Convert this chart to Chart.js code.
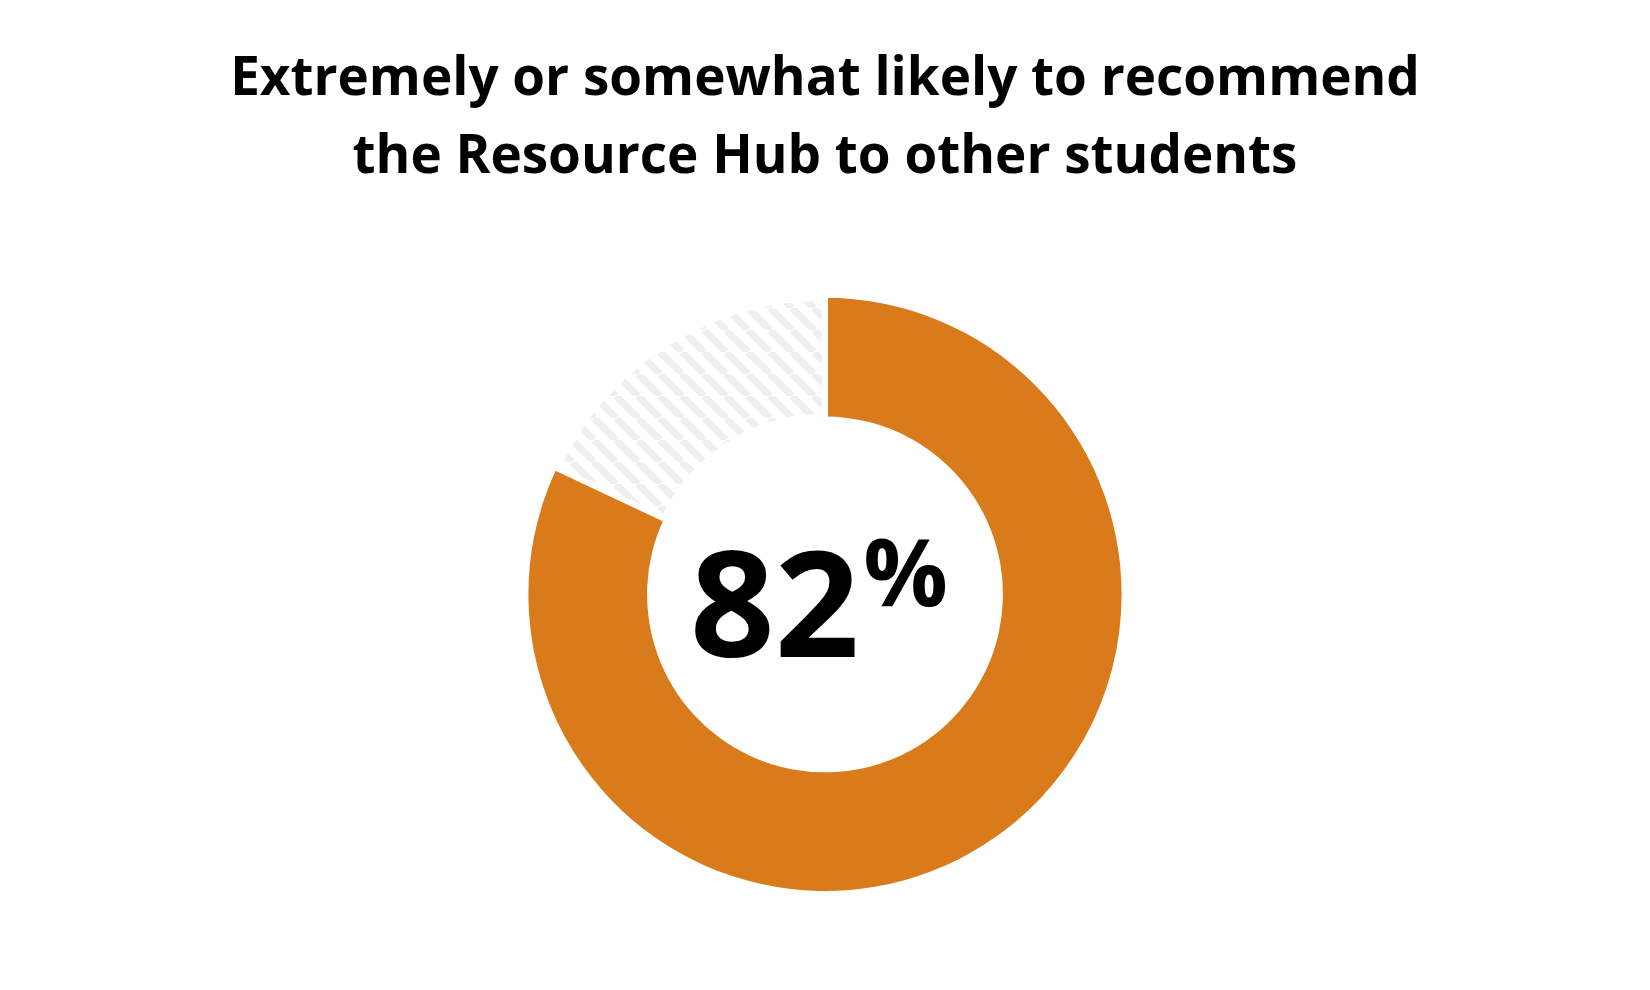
<!DOCTYPE html>
<html>
<head>
<meta charset="utf-8">
<script src="https://cdn.jsdelivr.net/npm/chart.js@4"></script>
<style>
  html, body { margin: 0; padding: 0; background: #ffffff; }
  #wrap { width: 1650px; height: 990px; }
</style>
</head>
<body>
<div id="wrap"><canvas id="c" width="1650" height="990"></canvas></div>
<script>
const titleLines = ['Extremely or somewhat likely to recommend', 'the Resource Hub to other students'];
const categories = ['Extremely or somewhat likely', 'Other'];
const values = [82, 18];
const centerNumber = '82';
const centerSuffix = '%';

function makeHatch() {
  const s = 22;
  const c = document.createElement('canvas');
  c.width = s; c.height = s;
  const g = c.getContext('2d');
  g.fillStyle = '#ffffff';
  g.fillRect(0, 0, s, s);
  g.strokeStyle = '#efefef';
  g.lineWidth = 7;
  for (let k = -1; k <= 1; k++) {
    g.beginPath();
    g.moveTo(k * s, 0);
    g.lineTo(k * s + s, s);
    g.stroke();
  }
  return g.createPattern(c, 'repeat');
}

const centerText = {
  id: 'centerText',
  afterDraw(chart) {
    const arc = chart.getDatasetMeta(0).data[0];
    if (!arc) return;
    const ctx = chart.ctx;
    ctx.save();
    ctx.fillStyle = '#000000';
    ctx.textBaseline = 'alphabetic';
    ctx.textAlign = 'left';
    const bigFont = 'bold 148px "Open Sans"';
    const smallFont = 'bold 94px "Open Sans"';
    const gap = 4;
    ctx.font = bigFont;
    const wBig = ctx.measureText(centerNumber).width;
    ctx.font = smallFont;
    const wSmall = ctx.measureText(centerSuffix).width;
    const total = wBig + wSmall + gap;
    const x0 = arc.x - 6 - total / 2;
    const baseline = arc.y + 63;
    ctx.font = bigFont;
    ctx.fillText(centerNumber, x0, baseline);
    ctx.font = smallFont;
    ctx.fillText(centerSuffix, x0 + wBig + gap, baseline - 51);
    ctx.restore();
  }
};

function build() {
  new Chart(document.getElementById('c'), {
    type: 'doughnut',
    data: {
      labels: categories,
      datasets: [{
        data: values,
        backgroundColor: ['#D97B1B', makeHatch()],
        borderColor: '#ffffff',
        borderWidth: [0, 6],
        hoverBorderWidth: [0, 6],
        hoverOffset: 0
      }]
    },
    options: {
      responsive: false,
      animation: false,
      cutout: '60%',
      layout: { padding: { left: 0, right: 0, top: 0, bottom: 96 } },
      plugins: {
        legend: { display: false },
        tooltip: { enabled: false },
        title: {
          display: true,
          text: titleLines,
          color: '#000000',
          font: { family: 'Open Sans', weight: 'bold', size: 53, lineHeight: 1.47 },
          padding: { top: 41, bottom: 98 }
        }
      }
    },
    plugins: [centerText]
  });
}

Promise.all([
  document.fonts.load('bold 148px "Open Sans"', '82%'),
  document.fonts.load('bold 53px "Open Sans"', 'Extremely')
]).then(build, build);
</script>
</body>
</html>
